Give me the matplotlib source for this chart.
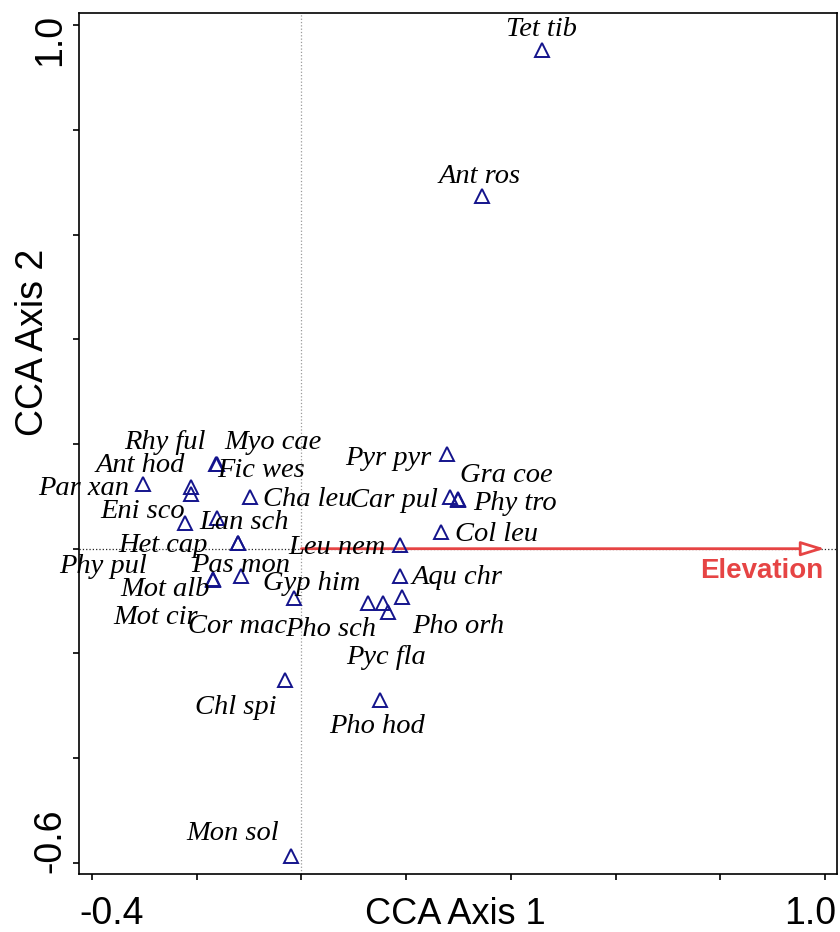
import numpy as np
import matplotlib
matplotlib.use("Agg")
import matplotlib.pyplot as plt
from matplotlib.transforms import ScaledTranslation

# CCA species scores (axis 1, axis 2)
species = ["Tet tib", "Ant ros", "Par xan", "Rhy ful", "Ant hod", "Myo cae",
           "Fic wes", "Cha leu", "Eni sco", "Lan sch", "Het cap", "Phy pul",
           "Pas mon", "Mot alb", "Mot cir", "Gyp him", "Cor mac", "Pho sch",
           "Pyc fla", "Pho orh", "Aqu chr", "Leu nem", "Col leu", "Car pul",
           "Phy tro", "Gra coe", "Pyr pyr", "Chl spi", "Pho hod", "Mon sol"]
axis1 = [0.459, 0.345, -0.302, -0.211, -0.211, -0.163,
         -0.162, -0.098, -0.222, -0.161, -0.122, -0.121,
         -0.116, -0.169, -0.169, -0.014, 0.156, 0.128,
         0.166, 0.192, 0.188, 0.188, 0.267, 0.284,
         0.300, 0.299, 0.279, -0.031, 0.150, -0.020]
axis2 = [0.953, 0.674, 0.123, 0.117, 0.104, 0.162,
         0.161, 0.099, 0.050, 0.058, 0.010, 0.010,
         -0.053, -0.058, -0.059, -0.095, -0.103, -0.103,
         -0.120, -0.093, -0.052, 0.007, 0.032, 0.098,
         0.093, 0.094, 0.181, -0.250, -0.289, -0.587]

# environmental variable (biplot arrow)
env_name = "Elevation"
env_axis1 = 1.0
env_axis2 = 0.0

# label placement, offset in pixels from each point (dx, dy up)
label_offsets = [(0, 20), (-2, 19), (-60, -4), (-26, 45), (-51, 29), (57, 21),
                 (44, -6), (58, -3), (-43, 11), (27, -4), (-75, -2), (-135, -23),
                 (0, 11), (-48, -10), (-57, -38), (18, 15), (-146, -24), (-38, -27),
                 (-2, -46), (56, -29), (57, -2), (-63, -2), (55, -3), (-56, -3),
                 (56, -3), (48, 24), (-59, -5), (-49, -28), (-3, -27), (-58, 22)]

RED = "#e64444"
NAVY = "#14148c"

fig = plt.figure(figsize=(8.4, 9.32), dpi=100)
ax = fig.add_axes([79 / 840, 58 / 932, 758 / 840, 861.3 / 932])
ax.set_xlim(-0.4248, 1.023)
ax.set_ylim(-0.6215, 1.024)

# reference lines through the origin
ax.axvline(0, color="#9a9a9a", lw=0.9, ls=":", zorder=1)
ax.axhline(0, color="#222222", lw=0.9, ls=":", zorder=1)

# species triangles
ax.plot(axis1, axis2, ls="none", marker="^", ms=9.8, mfc="none",
        mec=NAVY, mew=1.4, zorder=3)

for name, x, y, (dx, dy) in zip(species, axis1, axis2, label_offsets):
    ax.annotate(name, xy=(x, y), xytext=(dx, dy), textcoords="offset pixels",
                ha="center", va="center", fontsize=20.5, style="italic",
                family="Liberation Serif", color="black", zorder=4)

# elevation arrow
ax.annotate("", xy=(env_axis1, env_axis2), xytext=(0, 0),
            arrowprops=dict(arrowstyle="-|>,head_length=0.72,head_width=0.22",
                            mutation_scale=20, ec=RED, fc="white", lw=2,
                            shrinkA=0, shrinkB=0), zorder=2)
ax.annotate(env_name, xy=(env_axis1, env_axis2), xytext=(-2, -22),
            textcoords="offset pixels", ha="right", va="center",
            fontsize=20, fontweight="bold", family="Liberation Sans", color=RED)

# axes, ticks and labels
for sp in ax.spines.values():
    sp.set_linewidth(1.2)

xt = np.round(np.arange(-0.4, 1.01, 0.2), 1)
yt = np.round(np.arange(-0.6, 1.01, 0.2), 1)
ax.set_xticks(xt)
ax.set_xticklabels(["-0.4" if v == -0.4 else ("1.0" if v == 1.0 else "") for v in xt])
ax.set_yticks(yt)
ax.set_yticklabels(["-0.6" if v == -0.6 else ("1.0" if v == 1.0 else "") for v in yt])
ax.tick_params(axis="both", direction="out", length=4.3, width=1.2,
               labelsize=27)
ax.tick_params(axis="x", pad=11.9)
ax.tick_params(axis="y", pad=3.6)
for lbl in ax.get_xticklabels() + ax.get_yticklabels():
    lbl.set_family("Liberation Sans")
for lbl in ax.get_yticklabels():
    lbl.set_rotation(90)
    lbl.set_va("center")


def shift(lbl, dx, dy):
    lbl.set_transform(lbl.get_transform() +
                      ScaledTranslation(dx / 100, dy / 100, fig.dpi_scale_trans))


xl = ax.get_xticklabels()
shift(xl[0], 19.5, 0)
shift(xl[-1], -14.5, 0)
yl = ax.get_yticklabels()
shift(yl[0], 0, 22)
shift(yl[-1], 0, -15)

ax.set_xlabel("CCA Axis 1", fontsize=26, family="Liberation Sans")
ax.set_ylabel("CCA Axis 2", fontsize=27, family="Liberation Sans")
ax.xaxis.set_label_coords(0.497, -0.027)
ax.xaxis.label.set_va("top")
ax.yaxis.set_label_coords(-0.037, 0.617)

fig.savefig("out.png", dpi=100)
